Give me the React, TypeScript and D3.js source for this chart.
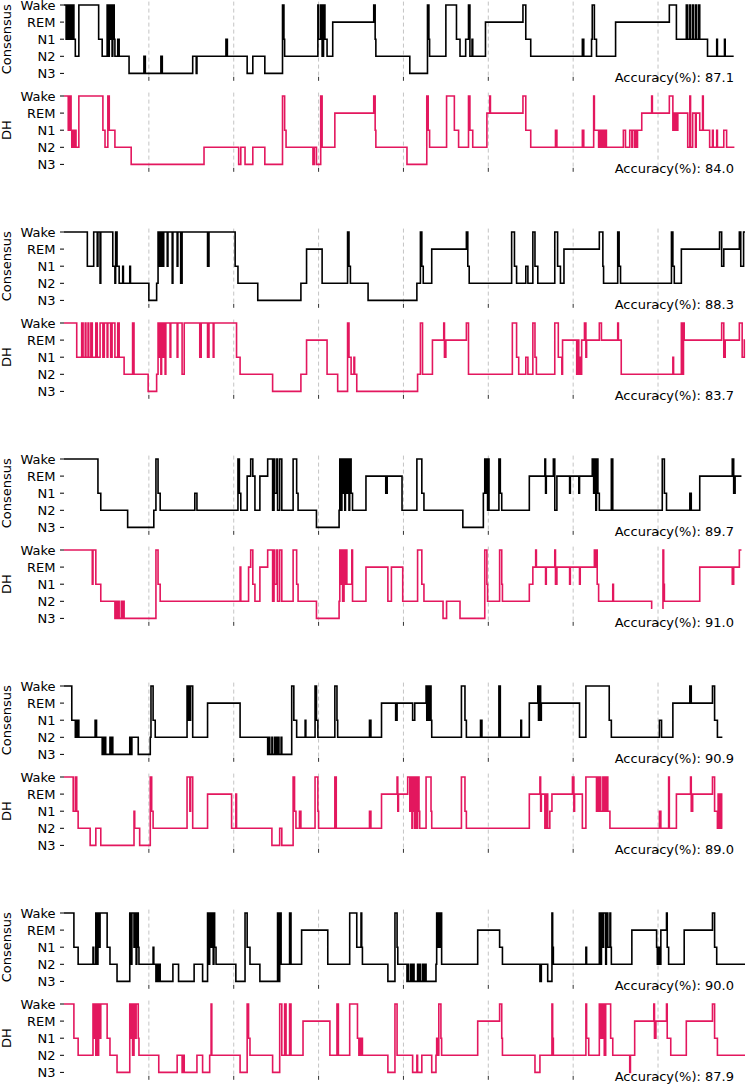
import React from 'react';
import * as d3 from 'd3';

// Stage index: 0 Wake, 1 REM, 2 N1, 3 N2, 4 N3. Each trace: [epochStart, stage] transitions (30 s epochs).
const STAGE_LABELS = ['Wake', 'REM', 'N1', 'N2', 'N3'];
const HOUR_TICKS = [120, 240, 360, 480, 600, 720, 840];
const TOTAL_EPOCHS = 963;

type Tr = [number, number | null][];

const consensus1: Tr = [[0,0],[3,2],[4,0],[6,2],[7,0],[8,2],[10,0],[11,2],[13,0],[14,2],[16,3],[21,0],[49,2],[54,3],[61,0],[62,3],[64,0],[65,2],[66,0],[68,3],[69,0],[71,2],[72,3],[76,2],[78,3],[92,4],[113,3],[115,4],[137,3],[139,4],[182,3],[187,4],[188,3],[229,2],[231,3],[259,4],[267,3],[284,4],[309,0],[311,2],[312,3],[359,0],[360,2],[363,0],[365,3],[367,0],[369,2],[372,3],[380,1],[438,0],[440,2],[441,3],[489,4],[514,0],[516,2],[517,3],[540,0],[555,2],[560,3],[568,2],[572,0],[574,3],[577,2],[578,3],[596,1],[649,0],[653,2],[660,3],[733,2],[735,3],[746,2],[747,0],[750,2],[753,3],[780,1],[856,0],[866,2],[880,0],[882,2],[885,0],[886,2],[889,0],[890,2],[893,0],[894,2],[897,0],[899,2],[910,3],[923,2],[924,3],[934,2],[935,3]];
const dh1: Tr = [[0,0],[6,2],[8,0],[10,2],[11,3],[13,2],[14,3],[16,2],[17,3],[21,0],[55,2],[58,3],[62,0],[64,2],[72,3],[95,4],[198,3],[247,4],[250,3],[256,4],[267,3],[284,4],[309,0],[312,2],[314,3],[352,4],[354,3],[357,4],[363,0],[365,3],[383,1],[438,0],[440,2],[441,3],[485,4],[513,0],[515,2],[517,3],[541,0],[552,2],[558,3],[572,0],[574,2],[578,3],[598,1],[602,0],[603,1],[649,0],[653,2],[660,3],[695,2],[697,3],[733,2],[735,3],[749,0],[750,2],[756,3],[757,2],[759,3],[760,2],[762,3],[763,2],[764,3],[766,2],[767,3],[791,2],[794,3],[800,2],[803,3],[804,2],[807,3],[808,2],[810,3],[811,2],[817,1],[831,0],[832,1],[856,0],[861,2],[862,1],[863,2],[865,1],[866,2],[868,1],[882,3],[885,0],[886,3],[889,1],[893,3],[894,1],[899,2],[903,0],[904,2],[913,3],[917,2],[918,3],[923,2],[924,3],[933,2],[937,3]];

const consensus2: Tr = [[0,0],[33,2],[42,0],[47,2],[48,0],[51,3],[52,0],[69,2],[72,3],[73,0],[75,2],[78,3],[83,2],[84,3],[93,2],[94,3],[120,4],[131,3],[133,0],[134,2],[136,0],[137,2],[138,0],[140,2],[141,0],[146,2],[147,0],[153,3],[154,0],[160,2],[161,0],[165,3],[167,0],[203,2],[205,0],[242,2],[246,3],[274,4],[335,3],[343,1],[365,3],[401,0],[403,2],[405,3],[430,4],[499,3],[504,0],[506,2],[508,3],[520,1],[569,0],[571,2],[573,3],[633,0],[637,2],[640,3],[653,2],[656,3],[663,0],[666,2],[670,3],[694,0],[698,2],[702,3],[707,1],[757,0],[762,2],[763,3],[783,0],[785,2],[787,3],[859,0],[861,2],[863,3],[873,1],[927,0],[930,2],[933,1],[955,0],[957,2],[961,0]];
const dh2: Tr = [[0,0],[18,2],[25,0],[27,2],[30,0],[31,2],[34,0],[35,2],[38,0],[40,2],[45,0],[47,2],[51,0],[55,2],[57,0],[61,2],[62,0],[66,2],[68,0],[72,2],[76,0],[78,2],[85,3],[97,0],[99,3],[119,4],[131,3],[133,0],[134,2],[136,0],[137,3],[138,0],[140,2],[141,0],[143,3],[144,0],[150,2],[151,0],[160,2],[161,0],[167,3],[170,0],[192,2],[194,0],[203,2],[205,0],[211,2],[212,0],[244,2],[249,3],[295,4],[335,3],[343,1],[372,3],[387,4],[401,0],[403,2],[406,3],[410,2],[411,3],[414,4],[500,3],[504,0],[507,3],[521,1],[537,0],[538,2],[540,1],[569,0],[572,3],[634,0],[640,2],[643,3],[653,2],[656,3],[663,0],[666,2],[668,3],[694,0],[699,2],[704,3],[705,1],[725,3],[726,1],[728,3],[729,2],[731,3],[732,1],[736,0],[738,2],[739,1],[757,0],[760,1],[783,0],[784,1],[788,3],[861,2],[862,3],[873,0],[875,3],[876,0],[877,1],[930,0],[933,2],[935,1],[955,0],[959,2],[962,1]];

const consensus3: Tr = [[0,0],[48,2],[52,3],[90,4],[127,3],[130,0],[133,2],[136,3],[185,2],[188,3],[246,0],[248,2],[250,3],[259,1],[264,0],[267,1],[270,3],[277,1],[288,0],[295,3],[297,0],[298,2],[301,0],[302,3],[305,0],[308,3],[324,0],[329,2],[331,3],[357,4],[389,3],[390,0],[391,3],[393,0],[394,2],[396,0],[397,3],[398,0],[400,2],[401,0],[403,3],[404,0],[406,2],[408,3],[427,1],[455,2],[457,1],[478,3],[499,0],[506,2],[509,3],[564,4],[593,2],[595,0],[596,2],[598,0],[599,3],[600,0],[601,3],[615,0],[617,2],[619,3],[658,1],[680,0],[681,2],[682,1],[692,0],[694,3],[697,1],[715,2],[716,1],[728,2],[729,1],[747,0],[749,2],[750,0],[752,3],[753,0],[755,2],[757,3],[774,0],[776,3],[846,0],[849,2],[852,3],[885,2],[887,3],[899,1],[945,0],[947,2],[949,1]];
const dh3: Tr = [[0,0],[40,2],[41,0],[45,2],[52,3],[72,4],[73,3],[75,4],[76,3],[78,4],[81,3],[82,4],[83,3],[85,4],[130,0],[133,2],[136,3],[249,1],[250,3],[261,1],[264,0],[267,2],[270,3],[277,1],[288,0],[295,3],[297,0],[298,2],[301,0],[302,3],[305,0],[308,3],[324,0],[329,2],[331,3],[357,4],[389,3],[390,0],[391,2],[393,0],[394,3],[396,0],[397,2],[398,0],[400,2],[407,0],[408,3],[427,1],[458,3],[463,1],[479,3],[500,0],[506,2],[509,3],[536,4],[541,3],[560,4],[595,0],[598,2],[599,3],[616,0],[619,2],[620,3],[658,2],[663,1],[667,0],[668,1],[681,2],[682,1],[694,0],[695,2],[697,1],[715,2],[716,1],[729,2],[730,1],[750,0],[751,1],[753,0],[754,2],[756,3],[776,2],[777,3],[831,3.4],[832,null],[846,3.4],[847,0],[848,2],[849,3],[899,1],[945,2],[947,1],[955,0]];

const consensus4: Tr = [[0,0],[11,2],[16,3],[17,2],[18,3],[20,2],[21,3],[44,2],[46,3],[54,4],[55,3],[57,4],[58,3],[59,4],[65,3],[66,4],[68,3],[69,4],[93,3],[95,4],[96,3],[105,4],[122,3],[123,0],[126,2],[129,3],[174,0],[175,2],[177,0],[178,2],[179,0],[182,3],[203,1],[249,3],[288,4],[290,3],[291,4],[294,3],[295,4],[298,3],[300,4],[302,3],[304,4],[307,3],[308,4],[322,0],[325,2],[329,3],[341,2],[342,3],[355,0],[357,2],[359,3],[383,0],[386,2],[387,3],[432,2],[434,3],[449,1],[469,2],[471,1],[493,2],[496,1],[512,0],[513,2],[514,0],[516,2],[517,0],[519,2],[520,3],[562,0],[567,2],[569,3],[589,2],[591,3],[615,0],[617,3],[646,2],[647,3],[658,1],[670,0],[671,2],[673,0],[674,2],[675,1],[729,3],[738,0],[771,2],[774,3],[842,2],[845,3],[861,1],[885,0],[887,1],[917,0],[920,2],[924,3]];
const dh4: Tr = [[0,0],[13,2],[16,0],[18,2],[20,3],[37,4],[45,3],[52,4],[99,2],[100,3],[107,4],[122,0],[124,2],[126,3],[174,0],[178,2],[179,0],[182,3],[203,1],[237,3],[243,1],[244,3],[294,4],[305,3],[308,4],[324,0],[326,2],[328,3],[333,2],[335,3],[355,0],[359,2],[360,3],[383,0],[385,3],[432,2],[434,3],[449,1],[471,0],[472,2],[473,1],[486,0],[489,2],[490,0],[492,3],[493,0],[495,2],[496,3],[497,0],[499,3],[500,0],[502,2],[503,3],[512,0],[519,2],[520,3],[562,0],[567,2],[569,3],[658,1],[673,0],[674,2],[675,1],[680,3],[682,1],[684,3],[687,2],[690,1],[719,0],[721,2],[722,1],[733,3],[738,0],[753,2],[755,0],[756,2],[757,0],[759,2],[762,0],[763,2],[764,0],[766,2],[767,0],[769,2],[772,3],[842,2],[844,3],[855,0],[856,3],[866,1],[886,0],[887,2],[889,1],[917,0],[920,2],[924,3],[925,1],[927,3],[928,1],[930,3]];

const consensus5: Tr = [[0,0],[14,2],[20,3],[41,2],[42,3],[45,0],[47,3],[48,0],[49,2],[51,0],[61,2],[65,3],[75,4],[93,0],[95,3],[96,0],[99,2],[100,0],[102,3],[103,0],[105,2],[106,3],[126,2],[127,3],[130,4],[131,3],[133,4],[134,3],[136,4],[154,3],[162,4],[184,3],[196,4],[203,0],[205,3],[206,0],[208,2],[209,0],[211,3],[212,0],[213,2],[215,3],[243,4],[256,0],[259,2],[263,3],[277,4],[302,0],[304,4],[305,0],[307,3],[319,0],[321,3],[336,1],[373,3],[404,0],[414,2],[420,0],[421,2],[422,3],[458,4],[468,0],[471,2],[472,3],[485,4],[486,3],[487,4],[490,3],[492,4],[493,3],[495,4],[500,3],[502,4],[503,3],[504,4],[507,3],[509,4],[510,3],[512,4],[526,3],[527,0],[529,2],[530,0],[531,2],[533,0],[534,3],[585,1],[616,2],[620,3],[673,4],[675,3],[684,4],[690,0],[691,2],[692,3],[738,2],[739,3],[757,0],[759,3],[760,0],[762,2],[763,0],[766,3],[767,0],[769,2],[772,0],[773,2],[774,3],[803,1],[838,2],[839,3],[841,2],[842,3],[844,1],[852,0],[853,2],[855,3],[877,1],[917,0],[920,2],[923,3]];
const dh5: Tr = [[0,0],[14,2],[20,3],[41,0],[42,2],[44,0],[45,3],[47,0],[48,3],[49,0],[51,2],[52,0],[61,2],[65,3],[75,4],[93,0],[95,2],[96,0],[97,3],[99,0],[100,2],[102,0],[105,2],[106,3],[134,4],[160,3],[167,4],[168,3],[170,4],[188,3],[196,4],[206,3],[208,0],[209,3],[249,4],[259,0],[261,2],[263,3],[295,4],[305,0],[308,3],[312,0],[314,3],[319,0],[321,3],[338,1],[376,3],[386,0],[388,3],[404,0],[415,2],[417,3],[418,2],[420,3],[421,2],[422,3],[458,4],[468,0],[471,3],[493,4],[499,3],[500,4],[506,3],[520,4],[526,3],[527,2],[529,3],[530,0],[533,2],[534,3],[585,1],[616,0],[619,2],[620,3],[666,4],[673,3],[690,0],[691,2],[692,3],[738,0],[739,2],[742,3],[757,0],[759,2],[760,0],[762,2],[763,0],[764,3],[766,0],[773,2],[776,3],[800,4],[801,3],[807,1],[834,0],[835,2],[837,1],[852,0],[853,2],[858,3],[880,1],[917,0],[920,2],[924,3]];

const CONSENSUS = [consensus1, consensus2, consensus3, consensus4, consensus5];
const DH = [dh1, dh2, dh3, dh4, dh5];
const CONSENSUS_END = [947, 963, 958, 931, 963];
const DH_END = [948, 963, 958, 931, 963];
const ACC_CONSENSUS = ['87.1', '88.3', '89.7', '90.9', '90.0'];
const ACC_DH = ['84.0', '83.7', '91.0', '89.0', '87.9'];

const FONT = '"DejaVu Sans", Verdana, sans-serif';
const W = 750, H = 1089;
const X0 = 64, X1 = 745;
const GROUP_TOP = 5, GROUP_STEP = 227, DH_OFFSET = 91, SPAN = 68.4;

function toPoints(tr: Tr, end: number): [number, number | null][] {
  const pts: [number, number | null][] = [];
  let prev: number | null = null;
  for (const [e, s] of tr) {
    if (s === null) {
      if (prev !== null) pts.push([e, prev]);
      pts.push([e, null]);
    } else pts.push([e, s]);
    prev = s;
  }
  if (prev !== null) pts.push([end, prev]);
  return pts;
}

const x = d3.scaleLinear().domain([0, TOTAL_EPOCHS]).range([X0, X1]);

function Panel({ top, data, end, color, label, acc }: { top: number; data: Tr; end: number; color: string; label: string; acc: string }) {
  const y = d3.scaleLinear().domain([0, 4]).range([top, top + SPAN]);
  const yTop = y(-0.2), yBot = y(4.2);
  const line = d3.line<[number, number | null]>()
    .defined(d => d[1] !== null)
    .x(d => x(d[0]))
    .y(d => y(d[1] as number))
    .curve(d3.curveStepAfter);
  const pts = toPoints(data, end);
  const cy = (y(0) + y(4)) / 2;
  return (
    <g>
      {HOUR_TICKS.map(t => (
        <g key={t}>
          <line x1={x(t)} x2={x(t)} y1={yTop} y2={yBot} stroke="#c4c4c4" strokeWidth={1} strokeDasharray="4,3" />
          <line x1={x(t)} x2={x(t)} y1={yBot} y2={yBot + 4} stroke="#333" strokeWidth={1} />
        </g>
      ))}
      {STAGE_LABELS.map((s, i) => (
        <g key={s}>
          <line x1={X0 - 4} x2={X0} y1={y(i)} y2={y(i)} stroke="#000" strokeWidth={1} />
          <text x={X0 - 8.5} y={y(i)} dy="0.36em" textAnchor="end" fontSize={13} fontFamily={FONT} fill="#000">{s}</text>
        </g>
      ))}
      <text transform={`translate(10.5,${cy}) rotate(-90)`} textAnchor="middle" fontSize={13} fontFamily={FONT} fill="#000">{label}</text>
      <path d={line(pts) || ''} fill="none" stroke={color} strokeWidth={1.6} strokeLinejoin="miter" />
      <text x={734} y={y(4) + 8.3} textAnchor="end" fontSize={13} fontFamily={FONT} fill="#000">{`Accuracy(%): ${acc}`}</text>
    </g>
  );
}

export default function App() {
  return (
    <svg width={W} height={H} style={{ position: 'absolute', left: 0, top: 0, background: '#fff' }}>
      <rect width={W} height={H} fill="#fff" />
      {CONSENSUS.map((c, g) => {
        const top = GROUP_TOP + g * GROUP_STEP;
        return (
          <g key={g}>
            <Panel top={top} data={c} end={CONSENSUS_END[g]} color="#000" label="Consensus" acc={ACC_CONSENSUS[g]} />
            <Panel top={top + DH_OFFSET} data={DH[g]} end={DH_END[g]} color="#e3175e" label="DH" acc={ACC_DH[g]} />
          </g>
        );
      })}
    </svg>
  );
}
